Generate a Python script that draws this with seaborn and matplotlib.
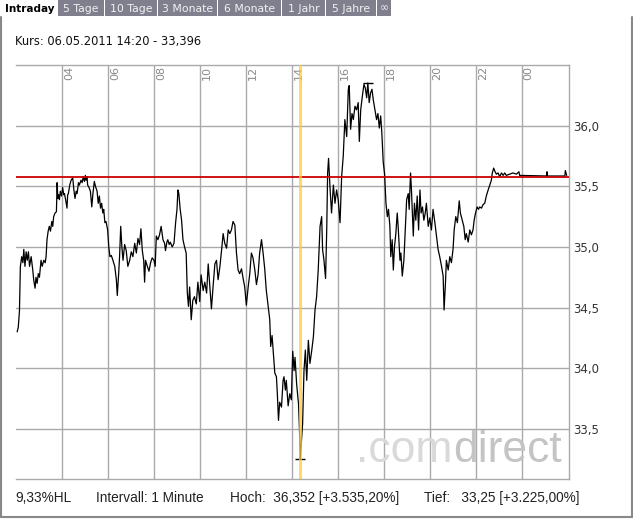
import matplotlib.pyplot as plt
import matplotlib.transforms as mtransforms
import seaborn as sns
import pandas as pd
from matplotlib.patches import Rectangle
from matplotlib.lines import Line2D

# Intraday-Kurse 06.05.2011 (Stunde, Kurs)
stunden = [
    2.03, 2.08, 2.13, 2.17, 2.23, 2.28, 2.32, 2.37, 2.42, 2.47, 2.52, 2.57, 2.64, 2.71, 2.75, 2.81,
    2.85, 2.90, 2.95, 3.00, 3.07, 3.12, 3.19, 3.25, 3.29, 3.33, 3.38, 3.43, 3.48, 3.54, 3.58, 3.62,
    3.68, 3.74, 3.77, 3.80, 3.83, 3.87, 3.91, 3.96, 4.01, 4.06, 4.09, 4.14, 4.20, 4.23, 4.26, 4.32,
    4.38, 4.45, 4.50, 4.55, 4.60, 4.64, 4.70, 4.74, 4.81, 4.86, 4.91, 4.96, 5.00, 5.03, 5.07, 5.10,
    5.16, 5.22, 5.28, 5.33, 5.39, 5.44, 5.51, 5.56, 5.61, 5.66, 5.71, 5.76, 5.80, 5.85, 5.90, 5.97,
    6.02, 6.07, 6.13, 6.20, 6.28, 6.35, 6.39, 6.45, 6.49, 6.54, 6.59, 6.64, 6.71, 6.78, 6.85, 6.93,
    7.00, 7.07, 7.15, 7.22, 7.29, 7.36, 7.42, 7.48, 7.54, 7.58, 7.62, 7.70, 7.77, 7.84, 7.91, 7.99,
    8.04, 8.09, 8.16, 8.23, 8.30, 8.38, 8.45, 8.49, 8.55, 8.59, 8.65, 8.70, 8.78, 8.86, 8.93, 8.99,
    9.03, 9.07, 9.13, 9.19, 9.25, 9.32, 9.39, 9.44, 9.49, 9.54, 9.61, 9.68, 9.75, 9.83, 9.90, 9.98,
    10.04, 10.13, 10.20, 10.28, 10.35, 10.42, 10.49, 10.56, 10.64, 10.71, 10.78, 10.86, 10.93, 11.00,
    11.07, 11.15, 11.22, 11.29, 11.36, 11.43, 11.51, 11.58, 11.65, 11.72, 11.80, 11.87, 11.94, 12.01,
    12.09, 12.16, 12.23, 12.30, 12.38, 12.45, 12.52, 12.59, 12.67, 12.74, 12.81, 12.88, 12.96, 13.03,
    13.07, 13.13, 13.19, 13.25, 13.32, 13.36, 13.41, 13.46, 13.54, 13.61, 13.65, 13.71, 13.75, 13.83,
    13.90, 13.97, 14.03, 14.09, 14.13, 14.20, 14.28, 14.32, 14.36, 14.38, 14.42, 14.46, 14.52, 14.58,
    14.64, 14.71, 14.78, 14.86, 14.93, 15.00, 15.07, 15.14, 15.22, 15.29, 15.33, 15.39, 15.46, 15.51,
    15.55, 15.59, 15.65, 15.72, 15.80, 15.87, 15.94, 16.01, 16.09, 16.16, 16.23, 16.30, 16.38, 16.45,
    16.49, 16.55, 16.61, 16.67, 16.74, 16.81, 16.88, 16.93, 16.99, 17.06, 17.13, 17.19, 17.25, 17.30,
    17.36, 17.42, 17.48, 17.54, 17.61, 17.68, 17.74, 17.80, 17.86, 17.91, 17.97, 18.03, 18.09, 18.15,
    18.20, 18.26, 18.30, 18.36, 18.41, 18.46, 18.52, 18.58, 18.62, 18.70, 18.74, 18.80, 18.87, 18.91,
    18.99, 19.06, 19.10, 19.16, 19.20, 19.28, 19.33, 19.39, 19.45, 19.51, 19.57, 19.62, 19.68, 19.74,
    19.80, 19.85, 19.93, 20.00, 20.07, 20.14, 20.22, 20.29, 20.36, 20.43, 20.51, 20.58, 20.62, 20.68,
    20.72, 20.80, 20.87, 20.94, 21.01, 21.06, 21.13, 21.20, 21.28, 21.33, 21.41, 21.48, 21.54, 21.59,
    21.67, 21.74, 21.81, 21.88, 21.93, 21.99, 22.06, 22.12, 22.17, 22.25, 22.32, 22.39, 22.46, 22.54,
    22.61, 22.68, 22.72, 22.78, 22.84, 22.90, 22.97, 23.04, 23.12, 23.19, 23.26, 23.33, 23.48, 23.62,
    23.77, 23.88, 23.91, 25.08, 25.10, 25.12, 25.88, 25.90, 25.96,
]
kurse = [
    34.30, 34.34, 34.47, 34.84, 34.92, 34.87, 34.98, 34.84, 34.96, 34.89, 34.96, 34.84, 34.92, 34.81, 34.73, 34.66,
    34.75, 34.70, 34.78, 34.75, 34.89, 34.84, 34.89, 34.87, 34.92, 35.06, 35.13, 35.17, 35.13, 35.21, 35.17, 35.25,
    35.28, 35.29, 35.53, 35.40, 35.43, 35.39, 35.46, 35.42, 35.49, 35.43, 35.44, 35.39, 35.32, 35.43, 35.44, 35.51,
    35.55, 35.57, 35.47, 35.40, 35.46, 35.44, 35.53, 35.51, 35.55, 35.53, 35.58, 35.54, 35.59, 35.55, 35.58, 35.51,
    35.49, 35.46, 35.33, 35.44, 35.54, 35.50, 35.46, 35.36, 35.42, 35.32, 35.36, 35.28, 35.31, 35.20, 35.21, 35.14,
    35.00, 34.92, 34.93, 34.89, 34.84, 34.73, 34.60, 34.78, 34.92, 35.17, 35.00, 34.89, 35.02, 34.97, 34.84, 34.89,
    34.96, 34.92, 35.03, 34.95, 35.07, 35.02, 35.15, 34.97, 34.89, 34.71, 34.89, 34.84, 34.80, 34.87, 34.91, 34.89,
    34.84, 35.09, 35.06, 35.10, 35.17, 35.06, 35.03, 34.97, 35.04, 35.06, 35.02, 35.04, 35.00, 35.03, 35.20, 35.31,
    35.47, 35.44, 35.31, 35.22, 35.06, 35.00, 34.95, 34.62, 34.51, 34.67, 34.40, 34.56, 34.59, 34.53, 34.71, 34.55,
    34.77, 34.64, 34.71, 34.62, 34.86, 34.67, 34.49, 34.67, 34.86, 34.89, 34.73, 34.84, 34.97, 35.11,
    35.03, 34.99, 35.14, 35.11, 35.14, 35.21, 35.18, 34.95, 34.81, 34.78, 34.82, 34.74, 34.67, 34.52,
    34.67, 34.78, 34.95, 34.91, 34.81, 34.69, 34.77, 34.95, 35.06, 34.95, 34.82, 34.64, 34.51, 34.40,
    34.18, 34.27, 34.12, 33.96, 33.93, 33.79, 33.57, 33.72, 33.68, 33.90, 33.93, 33.82, 33.90, 33.69,
    33.79, 33.74, 34.14, 33.98, 34.09, 33.87, 33.71, 33.52, 33.25, 33.32, 33.43, 33.54, 33.98, 34.15,
    33.90, 34.23, 34.04, 34.15, 34.26, 34.48, 34.59, 34.81, 35.17, 35.25, 34.98, 34.89, 34.74, 35.14,
    35.61, 35.73, 35.50, 35.28, 35.51, 35.36, 35.47, 35.39, 35.20, 35.58, 35.75, 36.05, 35.91, 36.30,
    36.33, 35.97, 36.10, 36.05, 36.16, 36.13, 36.19, 35.87, 36.13, 36.24, 36.34, 36.31, 36.23, 36.352,
    36.19, 36.27, 36.30, 36.21, 36.13, 36.05, 36.10, 35.98, 36.08, 35.94, 35.70, 35.60, 35.36, 35.25,
    35.31, 35.17, 34.92, 35.06, 34.81, 35.00, 35.11, 35.28, 35.17, 34.89, 34.95, 34.76, 34.89, 35.06,
    35.39, 35.44, 35.31, 35.61, 35.47, 35.09, 35.36, 35.22, 35.42, 35.14, 35.47, 35.28, 35.33, 35.22,
    35.28, 35.36, 35.17, 35.24, 35.14, 35.31, 35.20, 35.09, 34.98, 34.92, 34.84, 34.76, 34.48, 34.70,
    34.89, 34.81, 34.92, 34.87, 34.98, 35.14, 35.25, 35.20, 35.38, 35.28, 35.22, 35.17, 35.06, 35.11,
    35.04, 35.14, 35.10, 35.14, 35.22, 35.28, 35.33, 35.31, 35.33, 35.32, 35.35, 35.36, 35.42, 35.47,
    35.51, 35.55, 35.61, 35.65, 35.62, 35.60, 35.61, 35.58, 35.61, 35.59, 35.61, 35.59, 35.60, 35.61,
    35.60, 35.62, 35.59, 35.585, 35.62, 35.585, 35.585, 35.63, 35.59,
]

vortag = 35.58
markierung = 14 + 20 / 60

x_ticks = [4, 6, 8, 10, 12, 14, 16, 18, 20, 22, 24]
x_labels = ["04", "06", "08", "10", "12", "14", "16", "18", "20", "22", "00"]
y_ticks = [33.5, 34.0, 34.5, 35.0, 35.5, 36.0]
y_labels = ["33,5", "34,0", "34,5", "35,0", "35,5", "36,0"]

tabs = ["5 Tage", "10 Tage", "3 Monate", "6 Monate", "1 Jahr", "5 Jahre", "\u221e"]
tab_kanten = [58, 105, 158, 218, 282, 326, 377, 392]

kopf = "Kurs: 06.05.2011 14:20 - 33,396"
fuss = [("9,33%HL", 15), ("Intervall: 1 Minute", 96),
        ("Hoch:  36,352 [+3.535,20%]", 230), ("Tief:   33,25 [+3.225,00%]", 424)]

sns.set_style("white")
plt.rcParams['font.family'] = ['DejaVu Sans']

W, H = 633, 519
fig = plt.figure(figsize=(W / 100, H / 100), dpi=100)
ax = fig.add_axes([16 / W, 1 - 479 / H, 553 / W, 414 / H])

df = pd.DataFrame({"Stunde": stunden, "Kurs": kurse})
sns.lineplot(data=df, x="Stunde", y="Kurs", ax=ax, color="black", lw=0.9,
             estimator=None, sort=False, zorder=3)

ax.set_xlim(1.98, 26.06)
ax.set_ylim(33.087, 36.5)
ax.set_xticks(x_ticks)
ax.set_xticklabels([])
ax.yaxis.tick_right()
ax.set_yticks(y_ticks)
ax.set_yticklabels(y_labels, fontsize=8.5, color="#333333")
ax.tick_params(axis="both", length=0)
ax.tick_params(axis="y", pad=3)
ax.set_xlabel("")
ax.set_ylabel("")
ax.grid(True, color="#aaaaaa", lw=1)
ax.spines["left"].set_visible(False)
for s in ["top", "right", "bottom"]:
    ax.spines[s].set_color("#aaaaaa")
    ax.spines[s].set_linewidth(1)

# Stundenbeschriftung oben im Chart
trans = mtransforms.blended_transform_factory(ax.transData, ax.transAxes)
trans = mtransforms.offset_copy(trans, fig=fig, x=2, y=-1, units="dots")
for h, lab in zip(x_ticks, x_labels):
    ax.text(h, 1, lab, transform=trans, rotation=90, ha="left", va="top",
            color="#8a8a8a", fontsize=8, zorder=2)

# Vortag, Zeitmarke, Hoch/Tief
ax.axhline(vortag, color="#cc0000", lw=1.3, zorder=4)
ax.axvline(markierung, color="#ffcc33", alpha=0.75, lw=2.2, zorder=5)
i_hi = kurse.index(max(kurse))
i_lo = kurse.index(min(kurse))
ax.hlines(kurse[i_hi], stunden[i_hi] - 0.22, stunden[i_hi] + 0.22, color="black", lw=1, zorder=3)
ax.hlines(kurse[i_lo], stunden[i_lo] - 0.22, stunden[i_lo] + 0.22, color="black", lw=1, zorder=3)

# Wasserzeichen
fig.text(452 / W, 1 - 462 / H, ".com", ha="right", va="baseline", fontsize=32,
         family="Liberation Sans", color="#d9d9d9", zorder=0)
fig.text(453 / W, 1 - 462 / H, "direct", ha="left", va="baseline", fontsize=32,
         family="Liberation Sans", color="#c4c4c4", zorder=0)

# Reiter
fig.text(5 / W, 1 - 8.5 / H, "Intraday", ha="left", va="center", fontsize=7.5,
         fontweight="bold", color="black")
for lab, a, b in zip(tabs, tab_kanten[:-1], tab_kanten[1:]):
    fig.add_artist(Rectangle((a / W, 1 - 16 / H), (b - a - 1) / W, 16 / H,
                             transform=fig.transFigure, color="#7f7f8e", lw=0))
    fig.text((a + b - 1) / 2 / W, 1 - 8.5 / H, lab, ha="center", va="center",
             fontsize=7.8, color="#f2f2f2")

# Rahmen
rahmen = dict(color="#888888", lw=1.5, transform=fig.transFigure)
fig.add_artist(Line2D([1 / W, 1 / W], [1 - 17 / H, 1 - 517 / H], **rahmen))
fig.add_artist(Line2D([631.5 / W, 631.5 / W], [1 - 17 / H, 1 - 517 / H], **rahmen))
fig.add_artist(Line2D([1 / W, 631.5 / W], [1 - 516.5 / H, 1 - 516.5 / H], **rahmen))

fig.text(15 / W, 1 - 41 / H, kopf, ha="left", va="center", fontsize=8.3, color="#111111")
for txt, x in fuss:
    fig.text(x / W, 1 - 498 / H, txt, ha="left", va="center", fontsize=9.8,
             family="Liberation Sans", color="#222222")

fig.savefig("out.png", dpi=100)
